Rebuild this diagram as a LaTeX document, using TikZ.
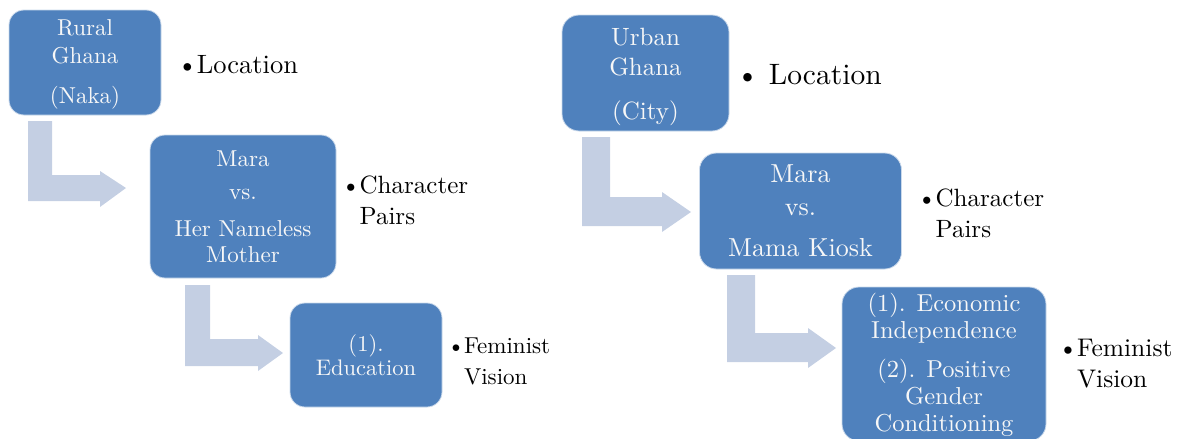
\documentclass[tikz,border=0pt]{standalone}
\usepackage{fontspec}
\setmainfont{lmroman10-regular}[Extension=.otf, BoldFont=lmroman10-bold, ItalicFont=lmroman10-italic]
\usetikzlibrary{calc}
\definecolor{boxblue}{HTML}{4F81BD}
\definecolor{arrowblue}{HTML}{C4CFE3}
\definecolor{boxtext}{HTML}{F7F7F7}
\tikzset{
  stagebox/.style={draw=white!70!boxblue, line width=0.8pt, fill=boxblue, rounded corners=15pt,
    inner sep=0pt, align=center, text=boxtext, anchor=center},
  bentarrow/.style={fill=arrowblue, draw=none},
  sidelabel/.style={inner sep=0pt, anchor=west, text=black}
}
\newcommand{\bul}{\textbullet\kern-1pt}
\begin{document}
\begin{tikzpicture}[x=1pt,y=-1pt]
\useasboundingbox (0,0) rectangle (1184,439);
\clip (0,0) rectangle (1184,439);
% ---------------- left diagram ----------------
\node[stagebox, minimum width=152pt, minimum height=105pt,
      font=\fontsize{23}{28}\selectfont] (b1) at (85,62.5)
      {\rule{0pt}{20pt}Rural\\Ghana\\[12pt](Naka)};
\node[stagebox, minimum width=186pt, minimum height=143pt,
      font=\fontsize{23}{26}\selectfont] (b2) at (243,206.5)
      {Mara\\[7pt]vs.\\[11pt]Her Nameless\\Mother};
\node[stagebox, minimum width=152pt, minimum height=104pt,
      font=\fontsize{22.5}{24}\selectfont] (b3) at (366,355)
      {(1).\\Education};
\fill[bentarrow] (28,121) -- (52,121) -- (52,175) -- (100,175) -- (100,171)
   -- (126,188) coordinate (a1tip) -- (100,207) -- (100,201) -- (28,201) -- cycle;
\fill[bentarrow] (185,285) -- (210,285) -- (210,339) -- (258,339) -- (258,335)
   -- (283,353) coordinate (a2tip) -- (258,371) -- (258,366) -- (185,366) -- cycle;
\node[sidelabel, font=\fontsize{26.5}{30}\selectfont] (l1) at (177,65) {\bul Location};
\node[sidelabel, font=\fontsize{25}{31}\selectfont] (l2) at (341,203)
  {\begin{tabular}{@{}l@{}l@{}}\bul&Character\\&Pairs\end{tabular}};
\node[sidelabel, font=\fontsize{23}{31}\selectfont] (l3) at (447,363)
  {\begin{tabular}{@{}l@{}l@{}}\bul&Feminist\\&Vision\end{tabular}};
% ---------------- right diagram ----------------
\node[stagebox, minimum width=167pt, minimum height=116pt, rounded corners=17pt,
      font=\fontsize{25}{30}\selectfont] (r1) at (645.5,73)
      {\rule{0pt}{25.5pt}Urban\\Ghana\\[14pt](City)};
\node[stagebox, minimum width=202pt, minimum height=116pt, rounded corners=17pt,
      font=\fontsize{26}{33}\selectfont] (r2) at (800.5,211)
      {Mara\\vs.\\[8pt]Mama Kiosk};
\node[stagebox, minimum width=204pt, minimum height=154pt, rounded corners=17pt,
      font=\fontsize{24.5}{27}\selectfont] (r3) at (944,364)
      {\rule{0pt}{21pt}(1). Economic\\Independence\\[12pt](2). Positive\\Gender\\Conditioning};
\fill[bentarrow] (582,137) -- (610,137) -- (610,197) -- (662,197) -- (662,192)
   -- (691,212) coordinate (a3tip) -- (662,232) -- (662,226) -- (582,226) -- cycle;
\fill[bentarrow] (727,275) -- (755,275) -- (755,333) -- (808,333) -- (808,328)
   -- (836,348) coordinate (a4tip) -- (808,368) -- (808,362) -- (727,362) -- cycle;
\node[sidelabel, font=\fontsize{29.5}{33}\selectfont] (m1) at (736,75) {\textbullet\ Location};
\node[sidelabel, font=\fontsize{25}{31}\selectfont] (m2) at (917,216)
  {\begin{tabular}{@{}l@{}l@{}}\bul&Character\\&Pairs\end{tabular}};
\node[sidelabel, font=\fontsize{25.5}{31}\selectfont] (m3) at (1058,366)
  {\begin{tabular}{@{}l@{}l@{}}\bul&Feminist\\&Vision\end{tabular}};
\end{tikzpicture}
\end{document}
